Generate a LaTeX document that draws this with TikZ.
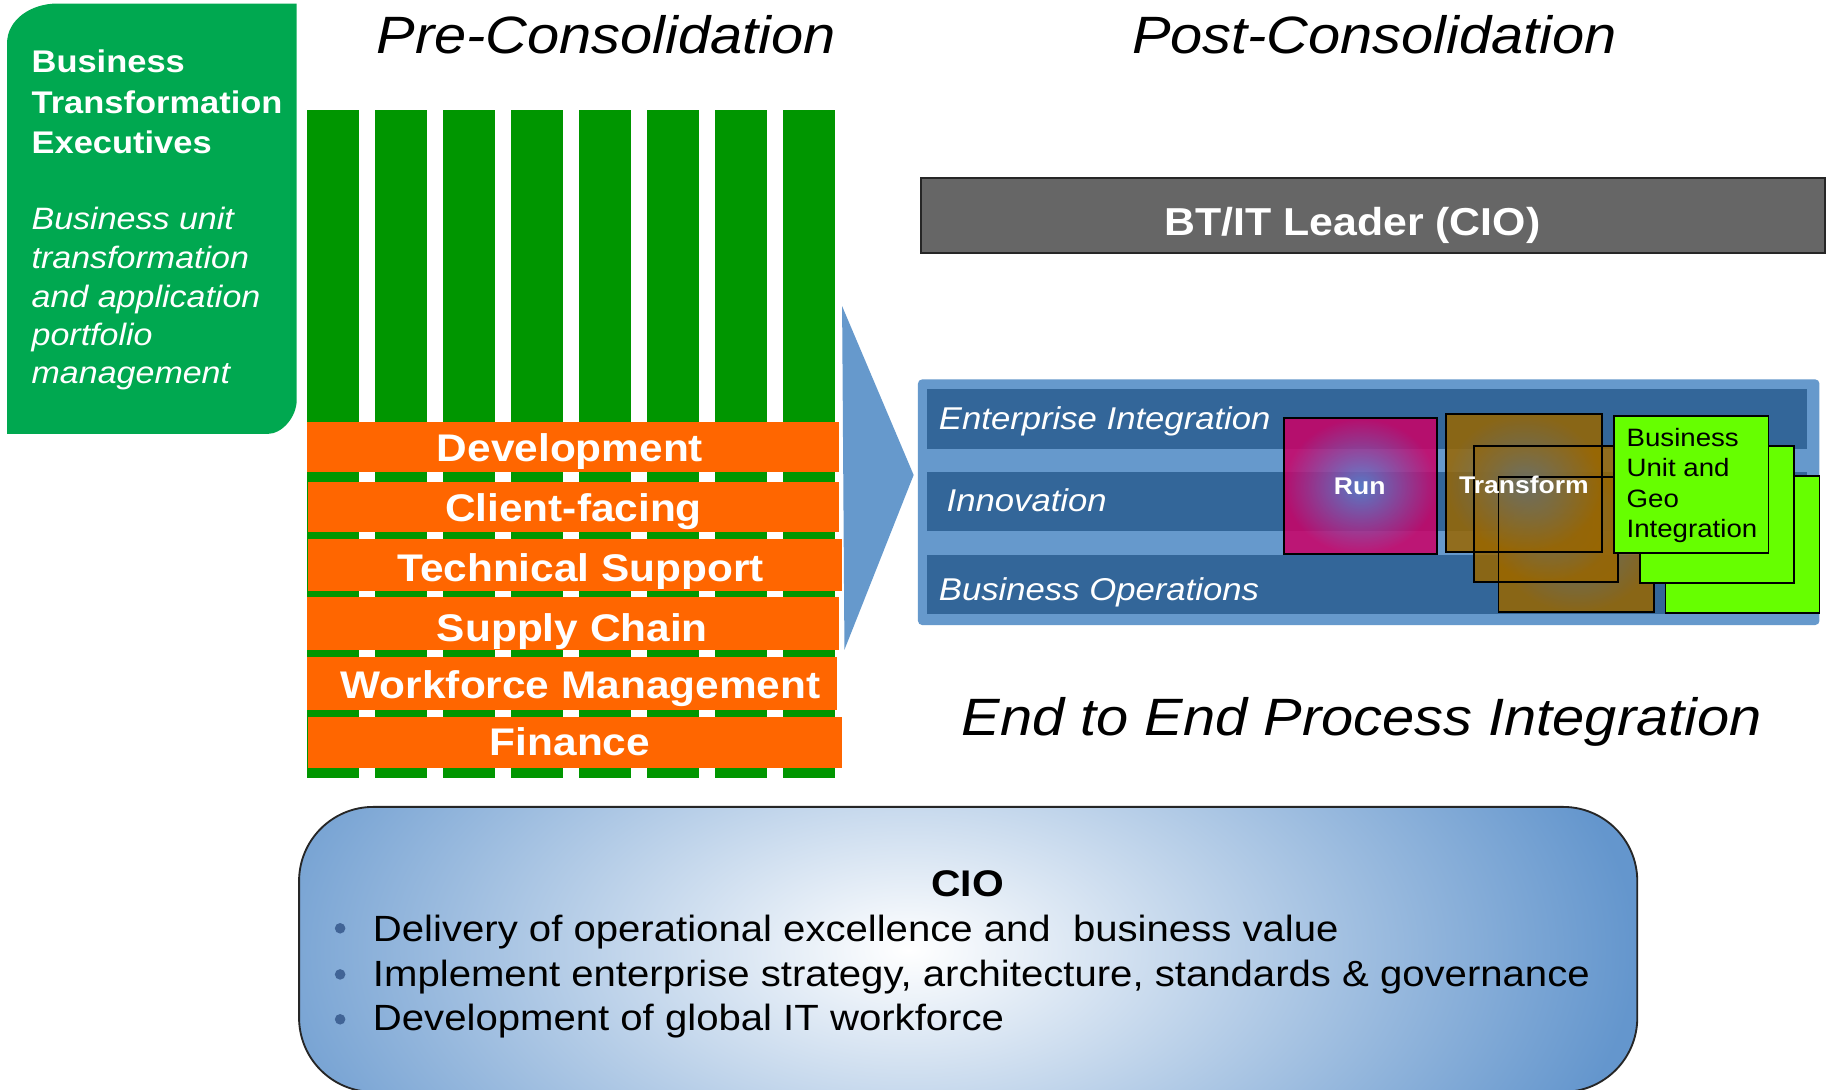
\documentclass[tikz,border=0pt]{standalone}
\usepackage{fontspec}
\setmainfont{Liberation Sans}[FakeStretch=1.1]
\definecolor{bgreen}{RGB}{0,168,80}
\definecolor{sgreen}{RGB}{0,150,0}
\definecolor{orng}{RGB}{255,102,0}
\definecolor{lblue}{RGB}{102,153,204}
\definecolor{lblueb}{RGB}{100,150,205}
\definecolor{dblue}{RGB}{51,102,153}
\definecolor{dgray}{RGB}{102,102,102}
\definecolor{magent}{RGB}{204,0,102}
\definecolor{runin}{RGB}{95,125,205}
\definecolor{brwn}{RGB}{153,102,0}
\definecolor{brwnin}{RGB}{105,112,108}
\definecolor{lime}{RGB}{102,255,0}
\definecolor{bullc}{RGB}{65,100,150}
\begin{document}
\begin{tikzpicture}[x=0.02cm,y=-0.02cm,
  every node/.style={inner sep=0pt,outer sep=0pt},
  ttl/.style={anchor=base,text=black,font=\fontsize{25.5}{30}\selectfont\itshape},
  gbold/.style={anchor=base west,text=white,font=\fontsize{15.2}{18}\selectfont\bfseries},
  gital/.style={anchor=base west,text=white,font=\fontsize{15}{18}\selectfont\itshape},
  otext/.style={anchor=base,text=white,font=\fontsize{18.7}{22}\selectfont\bfseries},
  btext/.style={anchor=base west,text=white,font=\fontsize{15.3}{18}\selectfont\itshape},
  boxline/.style={draw=black,line width=0.9pt},
  smallb/.style={anchor=base,text=white,font=\fontsize{11.7}{14}\selectfont\bfseries},
  butext/.style={anchor=base west,text=black,font=\fontsize{12.2}{14}\selectfont},
  ciotext/.style={anchor=base west,text=black,font=\fontsize{17.7}{21}\selectfont},
  bul/.style={circle,fill=bullc,minimum size=0.18cm}
]
\useasboundingbox (0,0) rectangle (1568,929);
\clip (0,0) rectangle (1568,929);
\fill[white] (0,0) rectangle (1568,929);

% ---------- left green box ----------
\fill[bgreen] (6,370) -- (6,37) .. controls (6,17) and (26,3) .. (49,3) -- (253,3) -- (253,341) .. controls (253,355) and (241,370) .. (228,370) -- cycle;
\node[gbold] (g1) at (27,62) {Business};
\node[gbold] (g2) at (27,96.6) {Transformation};
\node[gbold] (g3) at (27,130.7) {Executives};
\node[gital] (i1) at (27,196) {Business unit};
\node[gital] (i2) at (27,229) {transformation};
\node[gital] (i3) at (27,262) {and application};
\node[gital] (i4) at (27,294.5) {portfolio};
\node[gital] (i5) at (27,327) {management};

% ---------- titles ----------
\node[ttl] (pre) at (517,45.5) {Pre-Consolidation};
\node[ttl] (post) at (1172,45.5) {Post-Consolidation};
\node[ttl] (e2e) at (1161,627) {End to End Process Integration};

% ---------- stripes ----------
\foreach \i in {0,...,7}
  \fill[sgreen] ({262+58*\i},94) rectangle ({306+58*\i},663);

% ---------- orange bars ----------
\fill[orng] (262,359.5) rectangle (715.4,402.7);
\fill[orng] (262.6,410.7) rectangle (715.4,453.9);
\fill[orng] (262.6,459.9) rectangle (717.9,503.6);
\fill[orng] (262,509.3) rectangle (715.4,554.2);
\fill[orng] (262,560) rectangle (713.3,605.4);
\fill[orng] (262.6,611) rectangle (717.9,655.1);
\node[otext] (dev) at (486,393.6) {Development};
\node[otext] (cf) at (489,444.8) {Client-facing};
\node[otext] (ts) at (495,496) {Technical Support};
\node[otext] (sc) at (488,547) {Supply Chain};
\node[otext] (wm) at (495,595.4) {Workforce Management};
\node[otext] (fin) at (486,643.8) {Finance};

% ---------- arrow ----------
\fill[lblue] (718,261) -- (779,405) -- (720,554) -- cycle;

% ---------- BT/IT leader ----------
\filldraw[fill=dgray,draw=black!85,line width=0.9pt] (785.3,152) rectangle (1556.4,216);
\node[anchor=base,text=white,font=\fontsize{18.9}{22}\selectfont\bfseries] (btit) at (1153,200.4) {BT/IT Leader (CIO)};

% ---------- post-consolidation panel ----------
\fill[lblue,rounded corners=2] (782.7,323.5) rectangle (1551.3,532.9);
\fill[dblue] (790.4,332) rectangle (1541.1,382.9);
\fill[dblue] (790.4,402.2) rectangle (1541.1,452.5);
\fill[dblue] (790.4,473.2) rectangle (1543,523.8);
\node[btext] (ei) at (800.6,366.1) {Enterprise Integration};
\node[btext] (inn) at (807.2,436.3) {Innovation};
\node[btext] (bo) at (800.6,511.6) {Business Operations};

% Run
\shade[inner color=runin,outer color=magent,opacity=0.85] (1094.8,356.7) rectangle (1225.3,472.4);
\draw[boxline] (1094.8,356.7) rectangle (1225.3,472.4);
% Transform stack
\shade[inner color=brwnin,outer color=brwn,opacity=0.85] (1277.6,406.4) rectangle (1410.4,521.5);
\shade[inner color=brwnin,outer color=brwn,opacity=0.85] (1256.8,380.3) rectangle (1379.3,496);
\shade[inner color=brwnin,outer color=brwn,opacity=0.85] (1232.9,353) rectangle (1366.2,470.4);
\draw[boxline] (1277.6,406.4) rectangle (1410.4,521.5);
\draw[boxline] (1256.8,380.3) rectangle (1379.3,496);
\draw[boxline] (1232.9,353) rectangle (1366.2,470.4);
\node[smallb] (run) at (1159.3,421.5) {Run};
\node[smallb] (transform) at (1299.3,421) {Transform};
% Business unit stack
\filldraw[fill=lime,boxline] (1420.1,405.9) rectangle (1551.3,523);
\filldraw[fill=lime,boxline] (1398.1,380.3) rectangle (1529.9,497.4);
\filldraw[fill=lime,boxline] (1376.2,354.7) rectangle (1507.9,471.8);
\node[butext] (bu1) at (1386.9,380.3) {Business};
\node[butext] (bu2) at (1386.9,405.9) {Unit and};
\node[butext] (bu3) at (1386.9,432.6) {Geo};
\node[butext] (bu4) at (1386.9,458.2) {Integration};

% ---------- bottom CIO box ----------
\begin{scope}
  \clip[rounded corners=36] (255,688) rectangle (1396,931);
  \fill[lblueb] (255,688) rectangle (1396,931);
  \shade[inner color=white,outer color=lblueb] (775,810) ellipse [x radius=620, y radius=340];
\end{scope}
\draw[black!85,line width=0.9pt,rounded corners=36] (255,688) rectangle (1396,931);
\node[anchor=base,text=black,font=\fontsize{18}{21}\selectfont\bfseries] (cio) at (825,764.5) {CIO};
\node[bul] (b1) at (290,791.5) {};
\node[bul] (b2) at (290,830.8) {};
\node[bul] (b3) at (290,869.1) {};
\node[ciotext] (l1) at (318,802.9) {Delivery of operational excellence and\ \ business value};
\node[ciotext] (l2) at (318,841.3) {Implement enterprise strategy, architecture, standards \& governance};
\node[ciotext] (l3) at (318,878.8) {Development of global IT workforce};
\end{tikzpicture}
\end{document}
